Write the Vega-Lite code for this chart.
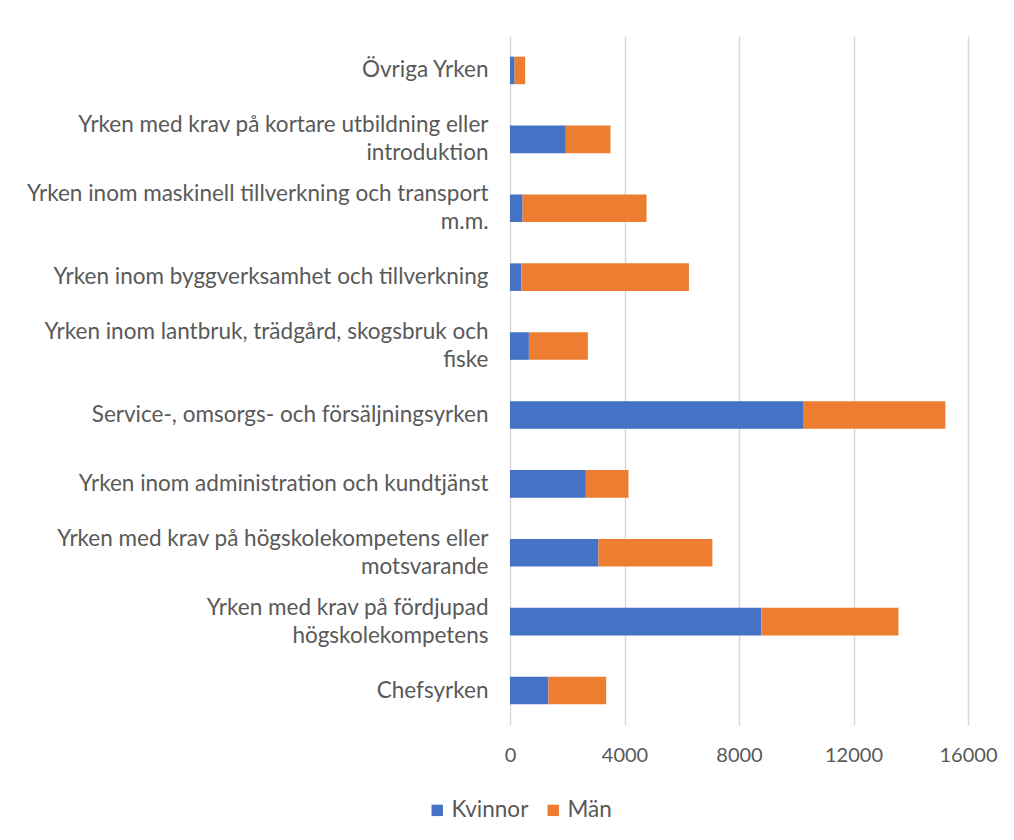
{
  "$schema": "https://vega.github.io/schema/vega-lite/v6.json",
  "autosize": "none",
  "width": 458,
  "height": 689,
  "padding": {"left": 510, "top": 36, "right": 46, "bottom": 115},
  "background": "white",
  "config": {
    "font": "Lato",
    "view": {"stroke": null}
  },
  "data": {
    "values": [
      {"yrke": "Övriga Yrken", "kon": "Kvinnor", "antal": 160},
      {"yrke": "Övriga Yrken", "kon": "Män", "antal": 370},
      {"yrke": "Yrken med krav på kortare utbildning eller|introduktion", "kon": "Kvinnor", "antal": 1950},
      {"yrke": "Yrken med krav på kortare utbildning eller|introduktion", "kon": "Män", "antal": 1560},
      {"yrke": "Yrken inom maskinell tillverkning och transport|m.m.", "kon": "Kvinnor", "antal": 440},
      {"yrke": "Yrken inom maskinell tillverkning och transport|m.m.", "kon": "Män", "antal": 4330},
      {"yrke": "Yrken inom byggverksamhet och tillverkning", "kon": "Kvinnor", "antal": 400},
      {"yrke": "Yrken inom byggverksamhet och tillverkning", "kon": "Män", "antal": 5850},
      {"yrke": "Yrken inom lantbruk, trädgård, skogsbruk och|fiske", "kon": "Kvinnor", "antal": 660},
      {"yrke": "Yrken inom lantbruk, trädgård, skogsbruk och|fiske", "kon": "Män", "antal": 2060},
      {"yrke": "Service-, omsorgs- och försäljningsyrken", "kon": "Kvinnor", "antal": 10260},
      {"yrke": "Service-, omsorgs- och försäljningsyrken", "kon": "Män", "antal": 4950},
      {"yrke": "Yrken inom administration och kundtjänst", "kon": "Kvinnor", "antal": 2650},
      {"yrke": "Yrken inom administration och kundtjänst", "kon": "Män", "antal": 1490},
      {"yrke": "Yrken med krav på högskolekompetens eller|motsvarande", "kon": "Kvinnor", "antal": 3090},
      {"yrke": "Yrken med krav på högskolekompetens eller|motsvarande", "kon": "Män", "antal": 3980},
      {"yrke": "Yrken med krav på fördjupad|högskolekompetens", "kon": "Kvinnor", "antal": 8780},
      {"yrke": "Yrken med krav på fördjupad|högskolekompetens", "kon": "Män", "antal": 4790},
      {"yrke": "Chefsyrken", "kon": "Kvinnor", "antal": 1340},
      {"yrke": "Chefsyrken", "kon": "Män", "antal": 2020}
    ]
  },
  "mark": {"type": "bar"},
  "encoding": {
    "y": {
      "field": "yrke",
      "type": "nominal",
      "sort": null,
      "scale": {"paddingInner": 0.6, "paddingOuter": 0.3},
      "axis": {
        "title": null,
        "domain": false,
        "ticks": false,
        "grid": false,
        "labelExpr": "split(datum.value, '|')",
        "labelFontSize": 22.5,
        "labelColor": "#595959",
        "labelPadding": 22,
        "labelLimit": 0,
        "labelLineHeight": 28,
        "labelOffset": {"condition": {"test": "indexof(datum.value, '|') >= 0", "value": -14}, "value": 0}
      }
    },
    "x": {
      "field": "antal",
      "type": "quantitative",
      "stack": "zero",
      "scale": {"domain": [0, 16000], "nice": false},
      "axis": {
        "title": null,
        "values": [0, 4000, 8000, 12000, 16000],
        "format": "d",
        "domain": false,
        "ticks": false,
        "grid": true,
        "gridColor": "#d9d9d9",
        "gridWidth": 1.5,
        "labelFontSize": 20,
        "labelColor": "#595959",
        "labelPadding": 20,
        "labelFlush": false
      }
    },
    "color": {
      "field": "kon",
      "type": "nominal",
      "scale": {"domain": ["Kvinnor", "Män"], "range": ["#4472C4", "#ED7D31"]},
      "legend": {
        "title": null,
        "orient": "none",
        "direction": "horizontal",
        "legendX": -84,
        "legendY": 763,
        "symbolType": "square",
        "symbolSize": 130,
        "symbolStrokeWidth": 0,
        "labelFontSize": 22.5,
        "labelColor": "#595959",
        "columnPadding": 13,
        "labelOffset": 3
      }
    },
    "order": {"field": "kon", "sort": "ascending"}
  }
}
